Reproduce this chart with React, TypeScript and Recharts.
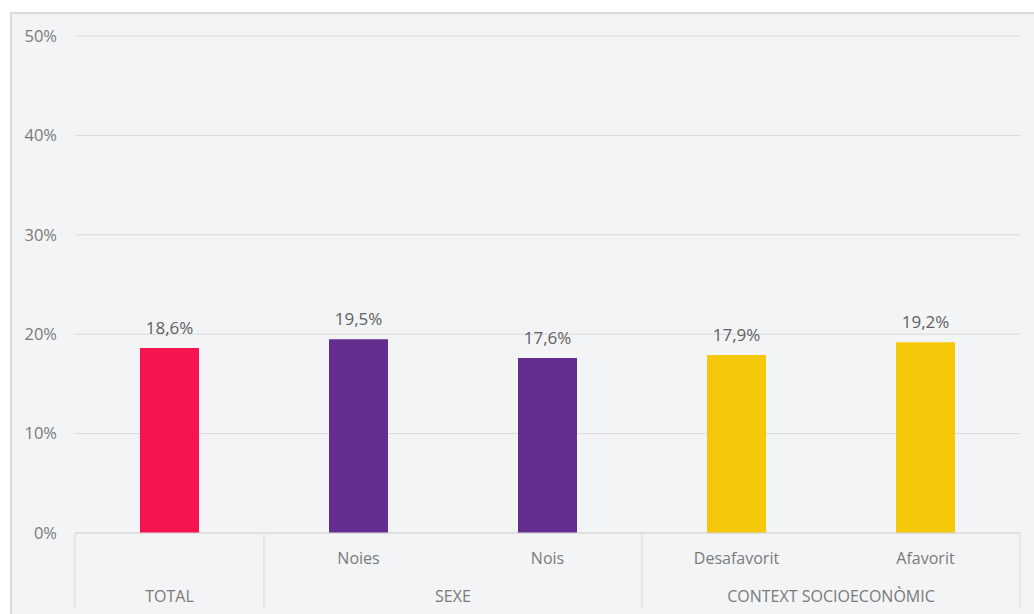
import { BarChart, Bar, XAxis, YAxis, CartesianGrid, Cell, LabelList } from "recharts";

const categories = ["", "Noies", "Nois", "Desafavorit", "Afavorit"];
const groups = ["TOTAL", "SEXE", "SEXE", "CONTEXT SOCIOECONÒMIC", "CONTEXT SOCIOECONÒMIC"];
const values = [18.6, 19.5, 17.6, 17.9, 19.2];
const barColors = ["#f7134f", "#662d91", "#662d91", "#f5c80a", "#f5c80a"];
const yTicks = [0, 10, 20, 30, 40, 50];

const data = categories.map((name, i) => ({ id: i, name, group: groups[i], value: values[i] }));

const WIDTH = 1034;
const HEIGHT = 614;
const MARGIN = { top: 36, right: 14, bottom: 0, left: 10 };
const X_HEIGHT = 81;
const Y_WIDTH = 65;
const STEP = (WIDTH - MARGIN.left - MARGIN.right - Y_WIDTH) / data.length;

const FONT = "'Open Sans', sans-serif";
const LINE = "#d9d9d9";

const fmt = (v: number) => `${v.toFixed(1).replace(".", ",")}%`;

function GroupedTick(props: any) {
  const { x, y, payload } = props;
  const i = payload.index;
  const left = x - STEP / 2;
  const isFirst = i === 0 || groups[i - 1] !== groups[i];
  const isLast = i === data.length - 1;
  let span = 1;
  while (i + span < groups.length && groups[i + span] === groups[i]) span++;
  return (
    <g>
      <text x={x} y={y + 31} textAnchor="middle" fill="#7a7a7a" fontSize={16} fontFamily={FONT}>
        {categories[i]}
      </text>
      {isFirst && (
        <>
          <line x1={left} x2={left} y1={y} y2={y + 75} stroke={LINE} strokeWidth={1} />
          <text
            x={left + (span * STEP) / 2}
            y={y + 69}
            textAnchor="middle"
            fill="#7a7a7a"
            fontSize={16}
            fontFamily={FONT}
          >
            {groups[i]}
          </text>
        </>
      )}
      {isLast && <line x1={x + STEP / 2} x2={x + STEP / 2} y1={y} y2={y + 75} stroke={LINE} strokeWidth={1} />}
    </g>
  );
}

export default function App() {
  return (
    <div style={{ position: "absolute", left: 0, top: 0, width: WIDTH, height: HEIGHT, background: "#fff", overflow: "hidden" }}>
      <div
        style={{
          position: "absolute",
          left: 10,
          top: 12,
          width: WIDTH,
          height: HEIGHT,
          background: "#f3f4f6",
          border: "2px solid #dadada",
          boxSizing: "border-box",
        }}
      />
      <div style={{ position: "absolute", left: 0, top: 0 }}>
        <BarChart width={WIDTH} height={HEIGHT} data={data} margin={MARGIN} barCategoryGap={0}>
          <CartesianGrid vertical={false} stroke={LINE} />
          <XAxis
            dataKey="name"
            interval={0}
            tickLine={false}
            tickSize={0}
            tickMargin={0}
            axisLine={{ stroke: LINE }}
            tick={<GroupedTick />}
            height={X_HEIGHT}
          />
          <YAxis
            domain={[0, 50]}
            ticks={yTicks}
            width={Y_WIDTH}
            axisLine={false}
            tickLine={false}
            tickSize={0}
            tickMargin={18}
            tickFormatter={(v) => `${v}%`}
            tick={{ fill: "#7a7a7a", fontSize: 16.5, fontFamily: FONT }}
          />
          <Bar dataKey="value" barSize={59} isAnimationActive={false}>
            {data.map((d) => (
              <Cell key={d.id} fill={barColors[d.id]} />
            ))}
            <LabelList
              dataKey="value"
              position="top"
              offset={14}
              formatter={(v: any) => fmt(Number(v))}
              fill="#606060"
              fontSize={17}
              fontFamily={FONT}
            />
          </Bar>
        </BarChart>
      </div>
    </div>
  );
}
